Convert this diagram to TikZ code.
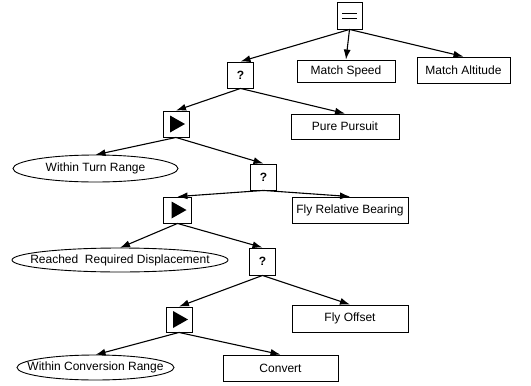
\documentclass[tikz,border=0pt]{standalone}
\usepackage{fontspec}
\setmainfont{Liberation Sans}
\usetikzlibrary{arrows.meta,calc}
\tikzset{
	task/.style={draw, line width=0.9pt, inner sep=0pt, font=\fontsize{12}{14}\selectfont},
	cond/.style={inner sep=0pt, font=\fontsize{12}{14}\selectfont},
	ctrl/.style={task, minimum width=26pt, minimum height=26pt, font=\fontsize{12}{14}\selectfont\bfseries},
	edge/.style={line width=1.1pt, -{Latex[length=10pt,width=7pt]}}
}

\begin{document}
\begin{tikzpicture}[x=1pt,y=-1pt]
		%%%%% START %%%%%
		\useasboundingbox (0,0) rectangle (531,386);
		
		\node[ctrl, minimum width=25pt, minimum height=27pt] (root) at (349.5, 15.5) {};
		\draw[line width=0.9pt] ($(root)+(-7.5,-2.5)$) -- ($(root)+(7,-2.5)$);
		\draw[line width=0.9pt] ($(root)+(-7.5,3)$) -- ($(root)+(7,3)$);
		
		\node[ctrl] (sel1) at (240.5, 75) {?};
		\node[task, minimum width=98pt, minimum height=22pt] (speed) at (346, 71) {Match Speed};
		\node[task, minimum width=93pt, minimum height=26pt] (altitude) at (463.5, 70) {Match Altitude};
		
		\node[ctrl] (seq1) at (176, 124) {};
		\fill ($(seq1)+(-6,-8.5)$) -- ($(seq1)+(9,0)$) -- ($(seq1)+(-6,8.5)$) -- cycle;
		\node[task, minimum width=108pt, minimum height=25pt] (pursuit) at (345, 126.5) {Pure Pursuit};
		
		\node[cond, minimum width=165pt, minimum height=27pt] (turn) at (95.5, 168.5) {Within Turn Range};
		\draw[line width=0.9pt] (turn.center) ellipse [x radius=82.5, y radius=13.5];
		\node[ctrl] (sel2) at (263.5, 177) {?};
		
		\node[ctrl, minimum width=28pt] (seq2) at (177.5, 210) {};
		\fill ($(seq2)+(-6,-8.5)$) -- ($(seq2)+(9,0)$) -- ($(seq2)+(-6,8.5)$) -- cycle;
		\node[task, minimum width=116pt, minimum height=26pt] (bearing) at (350, 210) {Fly Relative Bearing};
		
		\node[cond, minimum width=216pt, minimum height=24pt] (displace) at (120, 260) {Reached\ \ Required Displacement};
		\draw[line width=0.9pt] (displace.center) ellipse [x radius=108, y radius=12];
		\node[ctrl, minimum height=27pt] (sel3) at (262.5, 261.5) {?};
		
		\node[ctrl, minimum height=25pt] (seq3) at (179, 319.5) {};
		\fill ($(seq3)+(-6,-8.5)$) -- ($(seq3)+(9,0)$) -- ($(seq3)+(-6,8.5)$) -- cycle;
		\node[task, minimum width=116pt, minimum height=27pt] (offset) at (350, 318.5) {Fly Offset};
		
		\node[cond, minimum width=157pt, minimum height=25pt] (conversion) at (95.5, 367.5) {Within Conversion Range};
		\draw[line width=0.9pt] (conversion.center) ellipse [x radius=78.5, y radius=12.5];
		\node[task, minimum width=115pt, minimum height=26pt] (convert) at (280.5, 368) {Convert};
		
		\draw[edge] (root.south) -- (sel1.north);
		\draw[edge] (root.south) -- (speed.north);
		\draw[edge] (root.south) -- (altitude.north);
		\draw[edge] (sel1.south) -- (seq1.north);
		\draw[edge] (sel1.south) -- (pursuit.north);
		\draw[edge] (seq1.south) -- (turn.north);
		\draw[edge] (seq1.south) -- (sel2.north);
		\draw[edge] (sel2.south) -- (seq2.north);
		\draw[edge] (sel2.south) -- (bearing.north);
		\draw[edge] (seq2.south) -- (displace.north);
		\draw[edge] (seq2.south) -- (sel3.north);
		\draw[edge] (sel3.south) -- (seq3.north);
		\draw[edge] (sel3.south) -- (offset.north);
		\draw[edge] (seq3.south) -- (conversion.north);
		\draw[edge] (seq3.south) -- (convert.north);
		%%%%% END %%%%%
	\end{tikzpicture}
\end{document}
